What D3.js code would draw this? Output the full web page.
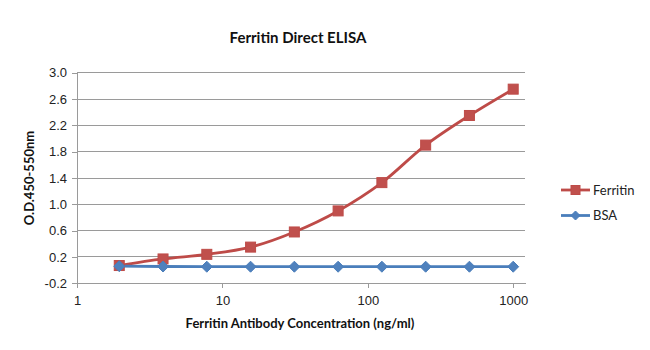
<!DOCTYPE html>
<html>
<head>
<meta charset="utf-8">
<script src="https://cdn.jsdelivr.net/npm/d3@7/dist/d3.min.js"></script>
<style>
  html, body { margin: 0; padding: 0; background: #fff; }
  svg { display: block; font-family: Lato, "Open Sans", "Liberation Sans", sans-serif; }
</style>
</head>
<body>
<svg id="chart" width="650" height="350"></svg>
<script>
// Antibody dilution series (ng/ml)
const concentrations = [1.953125, 3.90625, 7.8125, 15.625, 31.25, 62.5, 125, 250, 500, 1000];
// Optical density readings at 450-550 nm
const ferritinOD = [0.07, 0.17, 0.24, 0.35, 0.58, 0.90, 1.33, 1.90, 2.35, 2.75];
const bsaOD = [0.06, 0.055, 0.052, 0.052, 0.052, 0.052, 0.052, 0.052, 0.052, 0.052];
const yTicks = [-0.2, 0.2, 0.6, 1.0, 1.4, 1.8, 2.2, 2.6, 3.0];
const xTicks = [1, 10, 100, 1000];
const seriesNames = ["Ferritin", "BSA"];

const svg = d3.select("#chart");
const plotLeft = 77, plotRight = 525, plotTop = 72.7, plotBottom = 283.3;
const decadePx = 145.4;

const x = d3.scaleLog()
  .domain([1, Math.pow(10, (plotRight - plotLeft) / decadePx)])
  .range([plotLeft, plotRight]);
const y = d3.scaleLinear().domain([-0.2, 3.0]).range([plotBottom, plotTop]);

const gridColor = "#9a9a9a";

// horizontal gridlines
svg.append("g")
  .selectAll("line")
  .data(yTicks)
  .join("line")
  .attr("x1", plotLeft).attr("x2", plotRight)
  .attr("y1", d => y(d)).attr("y2", d => y(d))
  .attr("stroke", gridColor).attr("stroke-width", 1)
  .attr("shape-rendering", "crispEdges");

// y axis (plain hyphen for negative values)
const fmtY = d => d.toFixed(1);
const yAxis = svg.append("g")
  .attr("transform", `translate(${plotLeft},0)`)
  .call(d3.axisLeft(y).tickValues(yTicks).tickFormat(fmtY).tickSize(5).tickSizeOuter(0));
yAxis.select(".domain").attr("stroke", gridColor).attr("shape-rendering", "crispEdges");
yAxis.selectAll(".tick line").attr("stroke", gridColor).attr("shape-rendering", "crispEdges");
yAxis.selectAll(".tick text")
  .attr("x", -10).attr("fill", "#222").style("font-size", "13px");

// x axis
const xAxis = svg.append("g")
  .attr("transform", `translate(0,${plotBottom})`)
  .call(d3.axisBottom(x).tickValues(xTicks).tickFormat(d3.format("d")).tickSize(5).tickSizeOuter(0));
xAxis.select(".domain").attr("stroke", gridColor).attr("shape-rendering", "crispEdges");
xAxis.selectAll(".tick line").attr("stroke", gridColor).attr("shape-rendering", "crispEdges");
xAxis.selectAll(".tick text")
  .attr("y", 12).attr("fill", "#222").style("font-size", "13px");

const red = "#BE4B48", redFill = "#C0504D";
const blue = "#4A7EBB", blueFill = "#4F81BD";

const ferritinPts = concentrations.map((c, i) => [x(c), y(ferritinOD[i])]);
const bsaPts = concentrations.map((c, i) => [x(c), y(bsaOD[i])]);

// Ferritin: smoothed line with square markers
svg.append("path")
  .attr("d", d3.line().curve(d3.curveCatmullRom.alpha(0.5))(ferritinPts))
  .attr("fill", "none").attr("stroke", red).attr("stroke-width", 2.8);

// BSA: straight line
svg.append("path")
  .attr("d", d3.line()(bsaPts))
  .attr("fill", "none").attr("stroke", blue).attr("stroke-width", 2.8);

const sq = 10, dm = 5.5;
svg.append("g").selectAll("rect")
  .data(ferritinPts)
  .join("rect")
  .attr("x", d => d[0] - sq / 2).attr("y", d => d[1] - sq / 2)
  .attr("width", sq).attr("height", sq)
  .attr("fill", redFill).attr("stroke", red).attr("stroke-width", 1);

const diamond = (cx, cy, r) => `M${cx},${cy - r}L${cx + r},${cy}L${cx},${cy + r}L${cx - r},${cy}Z`;
svg.append("g").selectAll("path")
  .data(bsaPts)
  .join("path")
  .attr("d", d => diamond(d[0], d[1], dm))
  .attr("fill", blueFill).attr("stroke", blue).attr("stroke-width", 1);

// title
svg.append("text")
  .attr("x", 298).attr("y", 43)
  .attr("text-anchor", "middle")
  .attr("font-weight", "bold").style("font-size", "15px").attr("fill", "#111")
  .text("Ferritin Direct ELISA");

// axis titles
svg.append("text")
  .attr("transform", `translate(34,${(plotTop + plotBottom) / 2}) rotate(-90)`)
  .attr("text-anchor", "middle")
  .attr("font-weight", "bold").style("font-size", "13px").attr("fill", "#111")
  .text("O.D.450-550nm");

svg.append("text")
  .attr("x", 300).attr("y", 328)
  .attr("text-anchor", "middle")
  .attr("font-weight", "bold").style("font-size", "13px").attr("fill", "#111")
  .text("Ferritin Antibody Concentration (ng/ml)");

// legend
const legend = svg.append("g");
const legendRows = [
  { name: seriesNames[0], y: 190, stroke: red, fill: redFill, shape: "square" },
  { name: seriesNames[1], y: 215.5, stroke: blue, fill: blueFill, shape: "diamond" }
];
legendRows.forEach(r => {
  legend.append("line")
    .attr("x1", 561).attr("x2", 590).attr("y1", r.y).attr("y2", r.y)
    .attr("stroke", r.stroke).attr("stroke-width", 2.8);
  if (r.shape === "square") {
    legend.append("rect")
      .attr("x", 575.5 - 4.5).attr("y", r.y - 4.5).attr("width", 9).attr("height", 9)
      .attr("fill", r.fill).attr("stroke", r.stroke);
  } else {
    legend.append("path")
      .attr("d", diamond(575.5, r.y, 4.5))
      .attr("fill", r.fill).attr("stroke", r.stroke);
  }
  legend.append("text")
    .attr("x", 593).attr("y", r.y).attr("dy", "0.35em")
    .style("font-size", "13px").attr("fill", "#222")
    .text(r.name);
});
</script>
</body>
</html>
